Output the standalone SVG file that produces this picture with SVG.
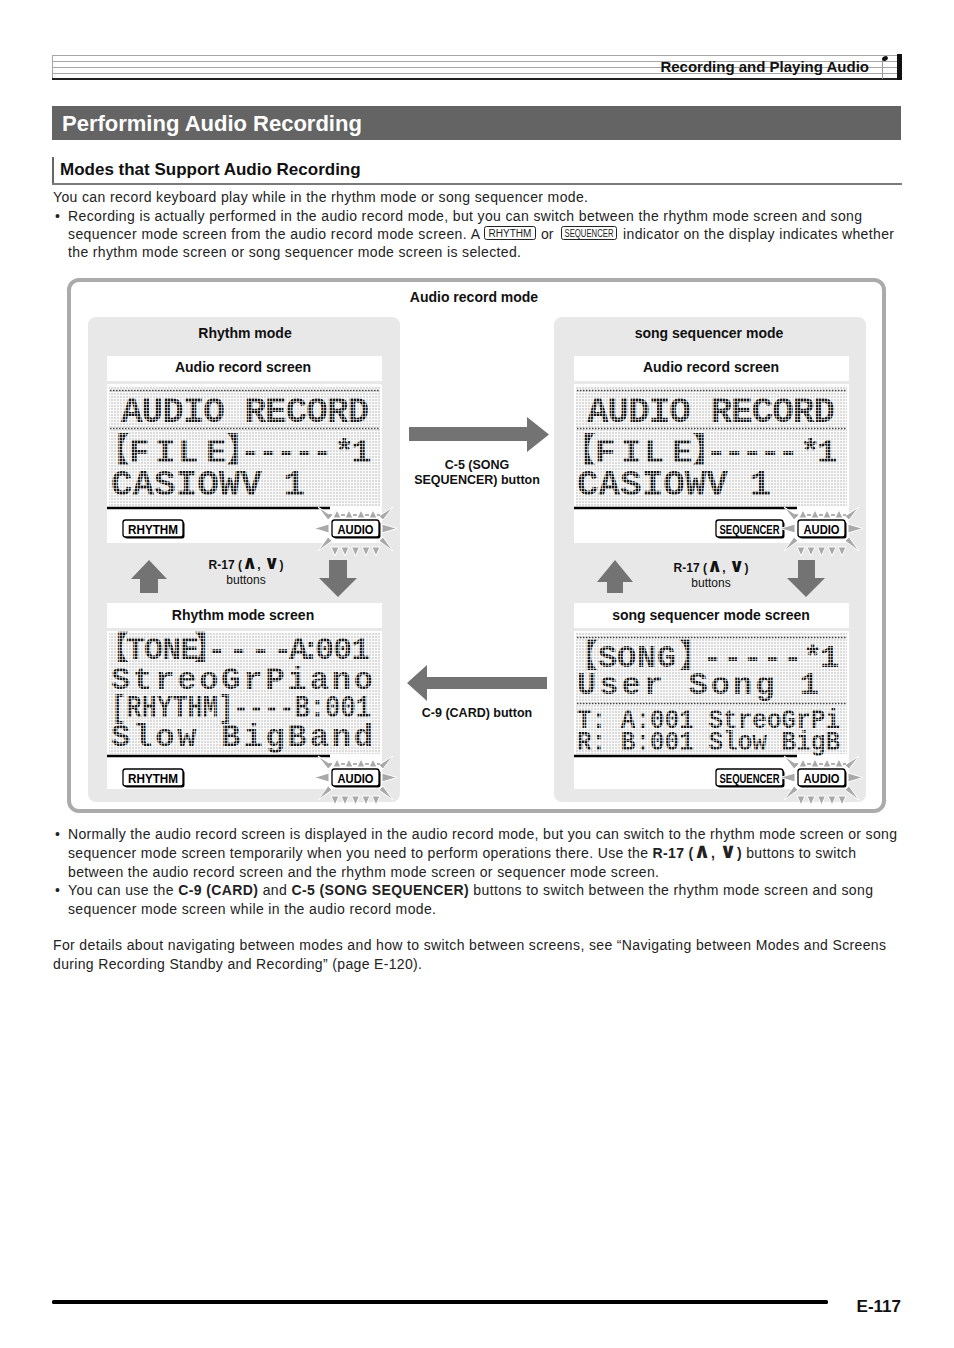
<svg xmlns="http://www.w3.org/2000/svg" xmlns:xlink="http://www.w3.org/1999/xlink" width="954" height="1348" viewBox="0 0 954 1348">
<style>
.t{font-family:"Liberation Sans",Arial,"DejaVu Sans",sans-serif;font-size:14px;fill:#222}
.b{font-weight:bold}
.sym{font-family:"DejaVu Sans",sans-serif;font-weight:bold}
.lbl{font-family:"Liberation Sans",Arial,sans-serif;font-size:14px;font-weight:bold;fill:#111;text-anchor:middle}
.sm{font-family:"Liberation Sans",Arial,"DejaVu Sans",sans-serif;font-size:12px;fill:#111;text-anchor:middle}
.lcd{font-family:"Liberation Mono","Noto Sans CJK JP",monospace;font-weight:bold;fill:url(#lcddot)}
.ind{font-family:"Liberation Sans Narrow","Liberation Sans",Arial,sans-serif;font-weight:bold;font-size:12px;fill:#000;text-anchor:middle}
.indbox{fill:#fff;stroke:#000;stroke-width:1.3}
.shd{fill:#000}
.arr{fill:#737373}
.sep{stroke:#444;stroke-width:1.6;stroke-dasharray:1.5 1.5}
.pin{font-family:"Liberation Sans Narrow","Liberation Sans",Arial,sans-serif;font-size:10px;fill:#222;text-anchor:middle}
</style>
<defs>
<pattern id="lcdbg" width="3" height="3" patternUnits="userSpaceOnUse"><rect width="3" height="3" fill="#fff"/><rect width="2.2" height="2.2" fill="#dcdcdc"/></pattern>
<pattern id="lcddot" width="3" height="3" patternUnits="userSpaceOnUse"><rect width="2.4" height="2.4" fill="#1a1a1a"/></pattern>
<g id="flash">
 <g fill="#a9a9a9" stroke="#fff" stroke-width="1" stroke-linejoin="round">
  <path d="M1 -2L5 -10L9 -2Z M13 -2L17 -10L21 -2Z M25 -2L29 -10L33 -2Z M37 -2L41 -10L45 -2Z"/>
  <path d="M-1 27L3 36L7 27Z M9 27L13 36L17 27Z M19.5 27L23.5 36L27.5 27Z M30 27L34 36L38 27Z M40 27L44 36L48 27Z"/>
  <path d="M-3 4L-3 13L-18 8.5Z M50 4L50 13L65 8.5Z"/>
  <path d="M-4 0L0 -4L-14 -13Z M47 -4L51 0L61 -13Z M-4 17L0 21L-14 31Z M47 21L51 17L61 31Z"/>
 </g>
 <path d="M-3 -5h3M9 -5h4M21 -5h4M33 -5h4M45 -5h3" stroke="#999" stroke-width="1.4"/>
</g>
</defs>
<rect width="954" height="1348" fill="#fff"/>

<g id="header">
 <g stroke="#a6a6a6" stroke-width="1">
  <line x1="52" y1="55.5" x2="898" y2="55.5"/>
  <line x1="52" y1="61.5" x2="898" y2="61.5"/>
  <line x1="52" y1="67.5" x2="898" y2="67.5"/>
  <line x1="52" y1="73.5" x2="898" y2="73.5"/>
  <line x1="52.5" y1="55" x2="52.5" y2="79"/>
 </g>
 <line x1="52" y1="79" x2="898" y2="79" stroke="#222" stroke-width="2"/>
 <rect x="897" y="54" width="5" height="26" fill="#111"/>
 <text class="t b" x="869" y="72" text-anchor="end" style="font-size:15px;fill:#111">Recording and Playing Audio</text>
 <line x1="882.5" y1="58" x2="882.5" y2="79" stroke="#999" stroke-width="1"/>
 <ellipse cx="885" cy="58.5" rx="3" ry="2.2" transform="rotate(-30 885 58.5)" fill="#111"/>
</g>

<g id="title">
 <rect x="52" y="106" width="849" height="34" fill="#646464"/>
 <text x="62" y="131" style="font-family:'Liberation Sans',Arial,sans-serif;font-size:22px;font-weight:bold;fill:#fff">Performing Audio Recording</text>
</g>

<g id="subheading">
 <rect x="52" y="157" width="2" height="27" fill="#666"/>
 <line x1="52" y1="184" x2="902" y2="184" stroke="#7a7a7a" stroke-width="2"/>
 <text x="60" y="175" style="font-family:'Liberation Sans',Arial,sans-serif;font-size:17px;font-weight:bold;fill:#111">Modes that Support Audio Recording</text>
</g>

<g id="intro">
 <text class="t" x="53" y="202" textLength="535" lengthAdjust="spacing">You can record keyboard play while in the rhythm mode or song sequencer mode.</text>
 <text class="t" x="55" y="221">•</text>
 <text class="t" x="68" y="221" textLength="794" lengthAdjust="spacing">Recording is actually performed in the audio record mode, but you can switch between the rhythm mode screen and song</text>
 <text class="t" x="68" y="239" textLength="412" lengthAdjust="spacing">sequencer mode screen from the audio record mode screen. A</text>
 <rect x="484.5" y="226.5" width="51" height="13" rx="2" fill="#fff" stroke="#222" stroke-width="1"/>
 <text class="pin" x="510" y="237" textLength="43" lengthAdjust="spacingAndGlyphs">RHYTHM</text>
 <text class="t" x="541" y="239">or</text>
 <rect x="561.5" y="226.5" width="55" height="13" rx="2" fill="#fff" stroke="#222" stroke-width="1"/>
 <text class="pin" x="589" y="237" textLength="49" lengthAdjust="spacingAndGlyphs">SEQUENCER</text>
 <text class="t" x="623" y="239" textLength="271" lengthAdjust="spacing">indicator on the display indicates whether</text>
 <text class="t" x="68" y="257" textLength="453" lengthAdjust="spacing">the rhythm mode screen or song sequencer mode screen is selected.</text>
</g>

<g id="diagram-frame">
 <rect x="69" y="280" width="815" height="531" rx="10" fill="#fff" stroke="#ababab" stroke-width="4"/>
 <text class="lbl" x="474" y="302">Audio record mode</text>
</g>

<g id="rhythm-mode">
 <rect x="88" y="317" width="312" height="485" rx="8" fill="#e8e8e8"/>
 <text class="lbl" x="245" y="338">Rhythm mode</text>
</g>

<g id="sequencer-mode">
 <rect x="554" y="317" width="312" height="485" rx="8" fill="#e8e8e8"/>
 <text class="lbl" x="709" y="338">song sequencer mode</text>
</g>

<g id="rhythm-audio-screen">
 <rect x="107" y="356" width="275" height="25" fill="#fff"/>
 <text class="lbl" x="243" y="372">Audio record screen</text>
 <rect x="107" y="384" width="275" height="159" fill="#fff"/>
 <rect x="109" y="386" width="271" height="120" fill="url(#lcdbg)"/>
 <line class="sep" x1="110" y1="390.5" x2="379" y2="390.5"/>
 <line class="sep" x1="110" y1="428.5" x2="379" y2="428.5"/>
 <text class="lcd" font-size="36" x="121" y="422" textLength="248" lengthAdjust="spacing">AUDIO RECORD</text>
 <text class="lcd" font-size="34" y="462" x="96 129 155 178 206 226 240 258 276 294 312 334 351">【FILE】-----*1</text>
 <text class="lcd" font-size="36" x="111" y="495" textLength="194" lengthAdjust="spacing">CASIOWV 1</text>
 <line x1="107" y1="508" x2="330" y2="508" stroke="#000" stroke-width="2.5"/>
 <rect class="shd" x="124.5" y="521.5" width="60" height="17" rx="2.5"/>
 <rect class="indbox" x="123" y="520" width="60" height="17" rx="2.5"/>
 <text class="ind" x="153" y="533.5" textLength="50" lengthAdjust="spacingAndGlyphs">RHYTHM</text>
 <use xlink:href="#flash" x="332" y="520"/>
 <rect class="shd" x="333.5" y="521.5" width="47" height="17" rx="2.5"/>
 <rect class="indbox" x="332" y="520" width="47" height="17" rx="2.5"/>
 <text class="ind" x="355.5" y="533.5" textLength="36" lengthAdjust="spacingAndGlyphs">AUDIO</text>
</g>

<g id="sequencer-audio-screen">
 <rect x="574" y="356" width="275" height="25" fill="#fff"/>
 <text class="lbl" x="711" y="372">Audio record screen</text>
 <rect x="574" y="384" width="275" height="159" fill="#fff"/>
 <rect x="576" y="386" width="271" height="120" fill="url(#lcdbg)"/>
 <line class="sep" x1="577" y1="390.5" x2="846" y2="390.5"/>
 <line class="sep" x1="577" y1="428.5" x2="846" y2="428.5"/>
 <text class="lcd" font-size="36" x="587" y="422" textLength="248" lengthAdjust="spacing">AUDIO RECORD</text>
 <text class="lcd" font-size="34" y="462" x="562 595 621 644 672 692 706 724 742 760 778 800 817">【FILE】-----*1</text>
 <text class="lcd" font-size="36" x="577" y="495" textLength="194" lengthAdjust="spacing">CASIOWV 1</text>
 <line x1="574" y1="508" x2="797" y2="508" stroke="#000" stroke-width="2.5"/>
 <rect class="shd" x="717.5" y="521.5" width="67" height="17" rx="2.5"/>
 <rect class="indbox" x="716" y="520" width="67" height="17" rx="2.5"/>
 <text class="ind" x="749.5" y="533.5" textLength="60" lengthAdjust="spacingAndGlyphs">SEQUENCER</text>
 <use xlink:href="#flash" x="798" y="520"/>
 <rect class="shd" x="799.5" y="521.5" width="47" height="17" rx="2.5"/>
 <rect class="indbox" x="798" y="520" width="47" height="17" rx="2.5"/>
 <text class="ind" x="821.5" y="533.5" textLength="36" lengthAdjust="spacingAndGlyphs">AUDIO</text>
</g>

<g id="rhythm-mode-screen">
 <rect x="107" y="603" width="275" height="25" fill="#fff"/>
 <text class="lbl" x="243" y="620">Rhythm mode screen</text>
 <rect x="107" y="631" width="275" height="158" fill="#fff"/>
 <rect x="109" y="633" width="271" height="121" fill="url(#lcdbg)"/>
 <text class="lcd" font-size="32" y="659" x="97 126 144 162 180 194 207 229 251 273 289 301 315 333 351">【TONE】----A:001</text>
 <text class="lcd" font-size="32" x="111" y="689" textLength="262" lengthAdjust="spacing">StreoGrPiano</text>
 <text class="lcd" font-size="31" x="111" y="717" textLength="260" lengthAdjust="spacingAndGlyphs">[RHYTHM]----B:001</text>
 <text class="lcd" font-size="32" x="111" y="746" textLength="262" lengthAdjust="spacing">Slow BigBand</text>
 <line x1="107" y1="756" x2="330" y2="756" stroke="#000" stroke-width="2.5"/>
 <rect class="shd" x="124.5" y="770.5" width="60" height="17" rx="2.5"/>
 <rect class="indbox" x="123" y="769" width="60" height="17" rx="2.5"/>
 <text class="ind" x="153" y="782.5" textLength="50" lengthAdjust="spacingAndGlyphs">RHYTHM</text>
 <use xlink:href="#flash" x="332" y="769"/>
 <rect class="shd" x="333.5" y="770.5" width="47" height="17" rx="2.5"/>
 <rect class="indbox" x="332" y="769" width="47" height="17" rx="2.5"/>
 <text class="ind" x="355.5" y="782.5" textLength="36" lengthAdjust="spacingAndGlyphs">AUDIO</text>
</g>

<g id="sequencer-mode-screen">
 <rect x="574" y="603" width="275" height="25" fill="#fff"/>
 <text class="lbl" x="711" y="620">song sequencer mode screen</text>
 <rect x="574" y="631" width="275" height="158" fill="#fff"/>
 <rect x="576" y="633" width="271" height="121" fill="url(#lcdbg)"/>
 <line class="sep" x1="577" y1="637.5" x2="846" y2="637.5"/>
 <line class="sep" x1="577" y1="703.5" x2="846" y2="703.5"/>
 <text class="lcd" font-size="32" y="667" x="566 598 617 637 657 679 703 723 743 763 783 803 820">【SONG】-----*1</text>
 <text class="lcd" font-size="32" x="577" y="694" textLength="242" lengthAdjust="spacing">User Song 1</text>
 <text class="lcd" font-size="27" x="577" y="728" textLength="263" lengthAdjust="spacingAndGlyphs">T: A:001 StreoGrPi</text>
 <text class="lcd" font-size="27" x="577" y="750" textLength="263" lengthAdjust="spacingAndGlyphs">R: B:001 Slow BigB</text>
 <line x1="574" y1="756" x2="797" y2="756" stroke="#000" stroke-width="2.5"/>
 <rect class="shd" x="717.5" y="770.5" width="67" height="17" rx="2.5"/>
 <rect class="indbox" x="716" y="769" width="67" height="17" rx="2.5"/>
 <text class="ind" x="749.5" y="782.5" textLength="60" lengthAdjust="spacingAndGlyphs">SEQUENCER</text>
 <use xlink:href="#flash" x="798" y="769"/>
 <rect class="shd" x="799.5" y="770.5" width="47" height="17" rx="2.5"/>
 <rect class="indbox" x="798" y="769" width="47" height="17" rx="2.5"/>
 <text class="ind" x="821.5" y="782.5" textLength="36" lengthAdjust="spacingAndGlyphs">AUDIO</text>
</g>

<g id="connectors">
 <path class="arr" d="M409 427H527V417L549 434.5L527 452V441H409Z"/>
 <text class="sm b" x="477" y="469" style="font-size:12.5px">C-5 (SONG</text>
 <text class="sm b" x="477" y="484" style="font-size:12.5px">SEQUENCER) button</text>
 <path class="arr" d="M547 677H427V665L407 683L427 701V689H547Z"/>
 <text class="sm b" x="477" y="717" style="font-size:12.5px">C-9 (CARD) button</text>
 <path class="arr" d="M149 560L167 579H158V593H140V579H131Z"/>
 <path class="arr" d="M329 560H347V578H357L338 597L319 578H329Z"/>
 <text class="sm b" x="246" y="569">R-17 (<tspan class="sym" style="font-size:19px">∧</tspan>, <tspan class="sym" style="font-size:19px">∨</tspan>)</text>
 <text class="sm" x="246" y="584">buttons</text>
 <path class="arr" d="M615 560L633 582H623V593H607V582H597Z"/>
 <path class="arr" d="M798 560H815V578H825L806 597L787 578H798Z"/>
 <text class="sm b" x="711" y="572">R-17 (<tspan class="sym" style="font-size:19px">∧</tspan>, <tspan class="sym" style="font-size:19px">∨</tspan>)</text>
 <text class="sm" x="711" y="587">buttons</text>
</g>

<g id="notes">
 <text class="t" x="55" y="839">•</text>
 <text class="t" x="68" y="839" textLength="829" lengthAdjust="spacing">Normally the audio record screen is displayed in the audio record mode, but you can switch to the rhythm mode screen or song</text>
 <text class="t" x="68" y="858" textLength="788" lengthAdjust="spacing">sequencer mode screen temporarily when you need to perform operations there. Use the <tspan class="b">R-17 (<tspan class="sym" style="font-size:21px">∧</tspan>, <tspan class="sym" style="font-size:21px">∨</tspan>)</tspan> buttons to switch</text>
 <text class="t" x="68" y="877" textLength="591" lengthAdjust="spacing">between the audio record screen and the rhythm mode screen or sequencer mode screen.</text>
 <text class="t" x="55" y="895">•</text>
 <text class="t" x="68" y="895" textLength="805" lengthAdjust="spacing">You can use the <tspan class="b">C-9 (CARD)</tspan> and <tspan class="b">C-5 (SONG SEQUENCER)</tspan> buttons to switch between the rhythm mode screen and song</text>
 <text class="t" x="68" y="914" textLength="368" lengthAdjust="spacing">sequencer mode screen while in the audio record mode.</text>
 <text class="t" x="53" y="950" textLength="833" lengthAdjust="spacing">For details about navigating between modes and how to switch between screens, see “Navigating between Modes and Screens</text>
 <text class="t" x="53" y="969" textLength="369" lengthAdjust="spacing">during Recording Standby and Recording” (page E-120).</text>
</g>

<g id="footer">
 <rect x="52" y="1300" width="776" height="4" rx="1.5" fill="#000"/>
 <text x="901" y="1312" text-anchor="end" style="font-family:'Liberation Sans',Arial,sans-serif;font-size:17px;font-weight:bold;fill:#111">E-117</text>
</g>
</svg>
